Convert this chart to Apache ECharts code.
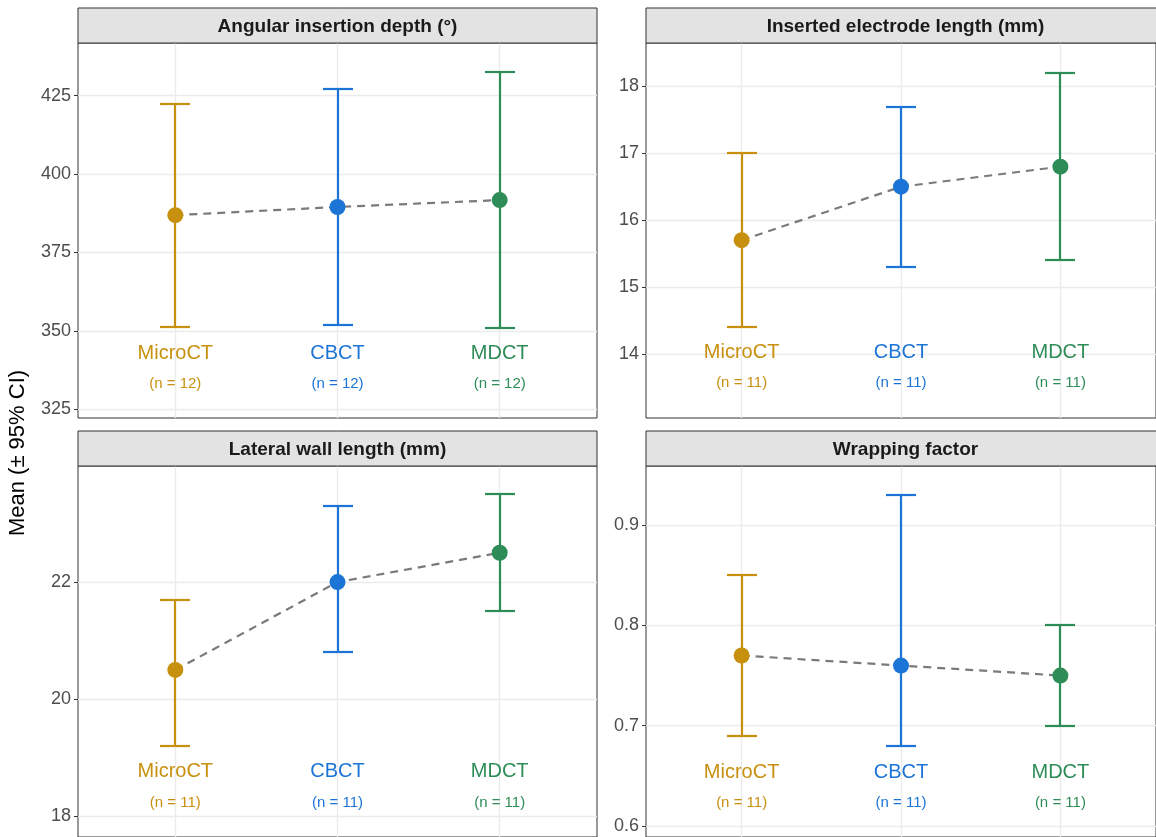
<!DOCTYPE html>
<html>
<head>
<meta charset="utf-8">
<style>
  html, body { margin: 0; padding: 0; background: #ffffff; }
  #chart { width: 1156px; height: 837px; }
</style>
<script src="https://cdn.jsdelivr.net/npm/echarts@6/dist/echarts.min.js"></script>
</head>
<body>
<div id="chart"></div>
<script>
// ----------------------
// DATA
// ----------------------
const categories = ["MicroCT", "CBCT", "MDCT"];
const catColors = ["#C8900F", "#1C75D6", "#2E8C57"];

const panelTitles = [
  "Angular insertion depth (°)",
  "Inserted electrode length (mm)",
  "Lateral wall length (mm)",
  "Wrapping factor",
];

// sample sizes per panel
const angularN = [12, 12, 12];
const electrodeN = [11, 11, 11];
const lateralN = [11, 11, 11];
const wrappingN = [11, 11, 11];

// means and 95% CI
const angularMean = [386.9, 389.5, 391.7];
const angularLow = [351.3, 351.9, 351.0];
const angularHigh = [422.4, 427.2, 432.6];

const electrodeMean = [15.7, 16.5, 16.8];
const electrodeLow = [14.4, 15.3, 15.4];
const electrodeHigh = [17.0, 17.7, 18.2];

const lateralMean = [20.5, 22.0, 22.5];
const lateralLow = [19.2, 20.8, 21.5];
const lateralHigh = [21.7, 23.3, 23.5];

const wrappingMean = [0.77, 0.76, 0.75];
const wrappingLow = [0.69, 0.68, 0.70];
const wrappingHigh = [0.85, 0.93, 0.80];

// y axis ticks
const angularTicks = [325, 350, 375, 400, 425];
const electrodeTicks = [14, 15, 16, 17, 18];
const lateralTicks = [18, 20, 22];
const wrappingTicks = [0.6, 0.7, 0.8, 0.9];

// axis ranges
const angularRange = [322.2, 441.8];
const electrodeRange = [13.04, 18.65];
const lateralRange = [17.65, 23.98];
const wrappingRange = [0.589, 0.959];

// y value where the group name / n text sits
const angularLabelY = [342.8, 333.0];
const electrodeLabelY = [14.02, 13.56];
const lateralLabelY = [18.77, 18.24];
const wrappingLabelY = [0.653, 0.623];

const panels = [
  { mean: angularMean, low: angularLow, high: angularHigh, n: angularN, ticks: angularTicks, range: angularRange, labelY: angularLabelY },
  { mean: electrodeMean, low: electrodeLow, high: electrodeHigh, n: electrodeN, ticks: electrodeTicks, range: electrodeRange, labelY: electrodeLabelY },
  { mean: lateralMean, low: lateralLow, high: lateralHigh, n: lateralN, ticks: lateralTicks, range: lateralRange, labelY: lateralLabelY },
  { mean: wrappingMean, low: wrappingLow, high: wrappingHigh, n: wrappingN, ticks: wrappingTicks, range: wrappingRange, labelY: wrappingLabelY },
];

// ----------------------
// LAYOUT
// ----------------------
const FONT = "'Liberation Sans', Arial, sans-serif";
const boxes = [
  { left: 78, top: 43 },
  { left: 646, top: 43 },
  { left: 78, top: 466 },
  { left: 646, top: 466 },
];
const PANEL_W = 519;
const PANEL_H = 375;
const STRIP_H = 35;

const grids = [];
const xAxes = [];
const yAxes = [];
const series = [];
const graphics = [];

panels.forEach((p, i) => {
  const b = boxes[i];

  grids.push({
    left: b.left,
    top: b.top,
    width: PANEL_W,
    height: PANEL_H,
    show: true,
    backgroundColor: "#ffffff",
    borderColor: "#333333",
    borderWidth: 1,
  });

  xAxes.push({
    gridIndex: i,
    type: "value",
    min: 0.4,
    max: 3.6,
    show: false,
  });

  yAxes.push({
    gridIndex: i,
    type: "value",
    min: p.range[0],
    max: p.range[1],
    axisLine: { show: false },
    axisTick: {
      show: true,
      length: 4,
      customValues: p.ticks,
      lineStyle: { color: "#333333", width: 1 },
    },
    axisLabel: {
      customValues: p.ticks,
      color: "#4D4D4D",
      fontSize: 18,
      fontFamily: FONT,
      margin: 7,
    },
    splitLine: { show: false },
  });

  // grid lines (markLine sits below the marks)
  series.push({
    type: "line",
    xAxisIndex: i,
    yAxisIndex: i,
    data: p.mean.map((v, j) => [j + 1, v]),
    showSymbol: false,
    lineStyle: { opacity: 0 },
    silent: true,
    z: 1,
    markLine: {
      z: 1,
      silent: true,
      symbol: ["none", "none"],
      label: { show: false },
      lineStyle: { color: "#EBEBEB", width: 1.3, type: "solid" },
      emphasis: { disabled: true },
      data: p.ticks
        .map((t) => ({ yAxis: t }))
        .concat(categories.map((c, j) => ({ xAxis: j + 1 }))),
    },
  });

  // dashed line through means
  series.push({
    type: "line",
    xAxisIndex: i,
    yAxisIndex: i,
    data: p.mean.map((v, j) => [j + 1, v]),
    symbol: "none",
    lineStyle: { color: "#7A7A7A", width: 2.2, type: [8, 6] },
    silent: true,
    z: 6,
  });

  // error bars
  series.push({
    type: "custom",
    xAxisIndex: i,
    yAxisIndex: i,
    data: p.mean.map((v, j) => [j + 1, p.low[j], p.high[j]]),
    encode: { x: 0, y: [1, 2] },
    silent: true,
    z: 7,
    renderItem: (params, api) => {
      const x = api.value(0);
      const lo = api.coord([x, api.value(1)]);
      const hi = api.coord([x, api.value(2)]);
      const cx = Math.round(lo[0]);
      const yLo = Math.round(lo[1]);
      const yHi = Math.round(hi[1]);
      const half = 15;
      const style = { stroke: catColors[params.dataIndex], lineWidth: 2.2, fill: null };
      return {
        type: "group",
        children: [
          { type: "line", shape: { x1: cx, y1: yLo, x2: cx, y2: yHi }, style },
          { type: "line", shape: { x1: cx - half, y1: yHi, x2: cx + half, y2: yHi }, style },
          { type: "line", shape: { x1: cx - half, y1: yLo, x2: cx + half, y2: yLo }, style },
        ],
      };
    },
  });

  // mean points
  series.push({
    type: "scatter",
    xAxisIndex: i,
    yAxisIndex: i,
    data: p.mean.map((v, j) => [j + 1, v]),
    symbolSize: 16,
    itemStyle: { color: (params) => catColors[params.dataIndex], opacity: 1 },
    silent: true,
    z: 8,
  });

  // group names
  series.push({
    type: "scatter",
    xAxisIndex: i,
    yAxisIndex: i,
    symbolSize: 0,
    silent: true,
    z: 9,
    itemStyle: { opacity: 1 },
    data: categories.map((c, j) => ({
      value: [j + 1, p.labelY[0]],
      name: c,
      label: { color: catColors[j] },
    })),
    label: {
      show: true,
      position: "inside",
      formatter: "{b}",
      fontSize: 20,
      fontFamily: FONT,
    },
  });

  // n counts
  series.push({
    type: "scatter",
    xAxisIndex: i,
    yAxisIndex: i,
    symbolSize: 0,
    silent: true,
    z: 9,
    itemStyle: { opacity: 1 },
    data: categories.map((c, j) => ({
      value: [j + 1, p.labelY[1]],
      name: "(n = " + p.n[j] + ")",
      label: { color: catColors[j] },
    })),
    label: {
      show: true,
      position: "inside",
      formatter: "{b}",
      fontSize: 15,
      fontFamily: FONT,
    },
  });

  // facet strip
  graphics.push({
    type: "rect",
    shape: { x: b.left, y: b.top - STRIP_H, width: PANEL_W, height: STRIP_H },
    style: { fill: "#E3E3E3", stroke: "#333333", lineWidth: 1 },
    z: 10,
  });
  graphics.push({
    type: "text",
    x: b.left + PANEL_W / 2,
    y: b.top - STRIP_H / 2 + 1,
    style: {
      text: panelTitles[i],
      font: "bold 19px " + FONT,
      fill: "#1A1A1A",
      align: "center",
      verticalAlign: "middle",
    },
    z: 11,
  });
});

// shared y title
graphics.push({
  type: "text",
  x: 18,
  y: 453,
  rotation: Math.PI / 2,
  style: {
    text: "Mean (± 95% CI)",
    font: "22px " + FONT,
    fill: "#000000",
    align: "center",
    verticalAlign: "middle",
  },
});

const chart = echarts.init(document.getElementById("chart"), null, { renderer: "canvas" });

chart.setOption({
  backgroundColor: "#ffffff",
  animation: false,
  grid: grids,
  xAxis: xAxes,
  yAxis: yAxes,
  series: series,
  graphic: graphics,
});
</script>
</body>
</html>
